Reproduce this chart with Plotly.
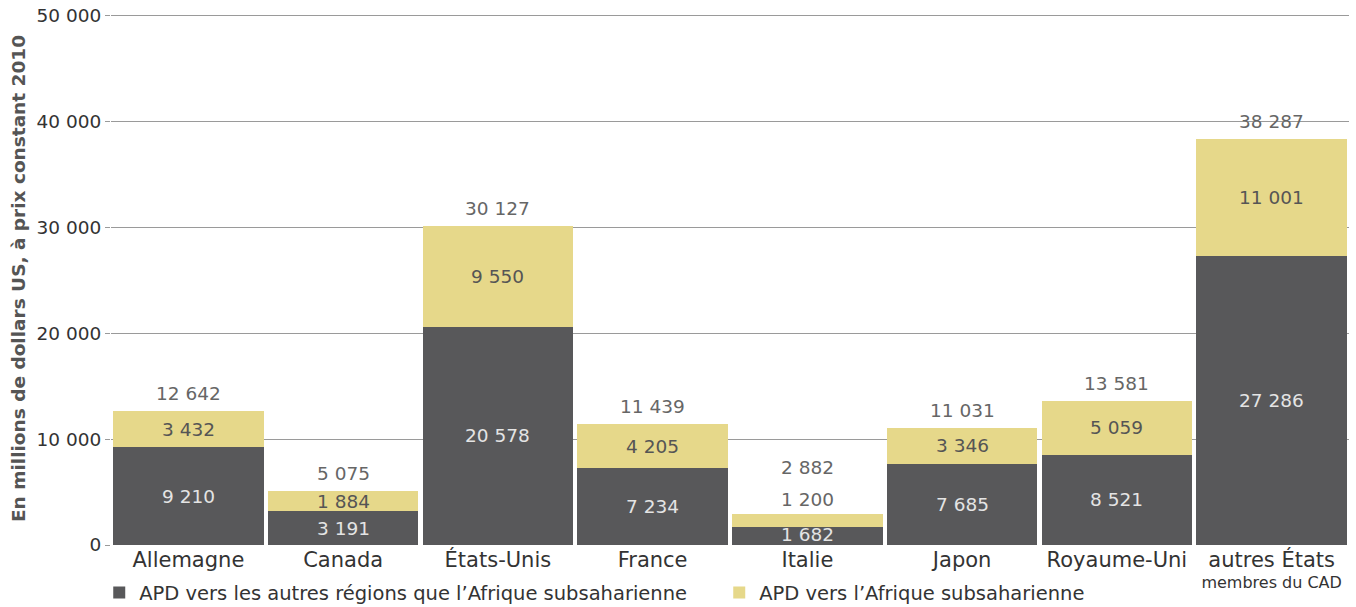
import plotly.graph_objects as go

categories = ["Allemagne", "Canada", "États-Unis", "France", "Italie", "Japon", "Royaume-Uni", "autres États"]
tick_main = ["Allemagne", "Canada", "États-Unis", "France", "Italie", "Japon", "Royaume-Uni", "autres États"]
tick_sub = ["", "", "", "", "", "", "", "membres du CAD"]
autres_regions = [9210, 3191, 20578, 7234, 1682, 7685, 8521, 27286]
afrique_ss = [3432, 1884, 9550, 4205, 1200, 3346, 5059, 11001]
totals = [12642, 5075, 30127, 11439, 2882, 11031, 13581, 38287]

DARK = "#58585a"
YELLOW = "#e6d88a"
FONT = "DejaVu Sans"

def fmt(v):
    return f"{v:,}".replace(",", " ")

tick_labels = [f"<span style='font-size:21px'>{m}</span>" + (f"<br>{s}" if s else "")
               for m, s in zip(tick_main, tick_sub)]

fig = go.Figure()
fig.add_trace(go.Bar(x=categories, y=autres_regions, name="APD vers les autres régions que l’Afrique subsaharienne",
                     marker=dict(color=DARK, line=dict(width=0))))
fig.add_trace(go.Bar(x=categories, y=afrique_ss, name="APD vers l’Afrique subsaharienne",
                     marker=dict(color=YELLOW, line=dict(width=0))))

ann = []
for c, a, b, t in zip(categories, autres_regions, afrique_ss, totals):
    ann.append(dict(x=c, y=a / 2, text=fmt(a), showarrow=False, yanchor="middle",
                    yshift=(2 if a < 2500 else 0),
                    font=dict(family=FONT, size=18.5, color="#e4e4e4")))
    if b > 1500:
        ann.append(dict(x=c, y=a + b / 2, text=fmt(b), showarrow=False, yanchor="middle",
                        font=dict(family=FONT, size=18.5, color="#555555")))
    else:
        ann.append(dict(x=c, y=t, text=fmt(b), showarrow=False, yanchor="bottom", yshift=2,
                        font=dict(family=FONT, size=18.5, color="#666666")))
    ann.append(dict(x=c, y=t, text=fmt(t), showarrow=False, yanchor="bottom",
                    yshift=(34 if b <= 1500 else 5),
                    font=dict(family=FONT, size=18.5, color="#666666")))

fig.update_layout(
    barmode="stack",
    bargap=0.026,
    width=1356, height=607,
    margin=dict(l=111, r=7, t=12, b=62, autoexpand=False),
    plot_bgcolor="white", paper_bgcolor="white",
    separators=", ",
    font=dict(family=FONT, size=18, color="#333333"),
    annotations=ann,
    showlegend=True,
    legend=dict(orientation="h", x=-0.0095, y=-0.053, xanchor="left", yanchor="top",
                bgcolor="rgba(0,0,0,0)",
                font=dict(family=FONT, size=19.5, color="#333333"),
                entrywidth=575, itemwidth=30, traceorder="normal"),
    xaxis=dict(tickvals=categories, ticktext=tick_labels, showgrid=False, showline=False,
               ticks="", automargin=False, ticklabelstandoff=5,
               tickfont=dict(family=FONT, size=16, color="#333333")),
    yaxis=dict(range=[0, 50300], tickvals=[0, 10000, 20000, 30000, 40000, 50000],
               showgrid=True, gridcolor="#9a9a9a", gridwidth=1, automargin=False,
               zeroline=False, ticks="outside", ticklen=5, tickcolor="#9a9a9a",
               tickformat=",d", tickfont=dict(family=FONT, size=18.5, color="#333333"),
               title=dict(text="<b>En millions de dollars US, à prix constant 2010</b>",
                          font=dict(family=FONT, size=18.5, color="#555555"), standoff=6)),
)

fig.write_html("out.html", config={"displayModeBar": False},
               post_script="document.body.style.margin='0px';")
